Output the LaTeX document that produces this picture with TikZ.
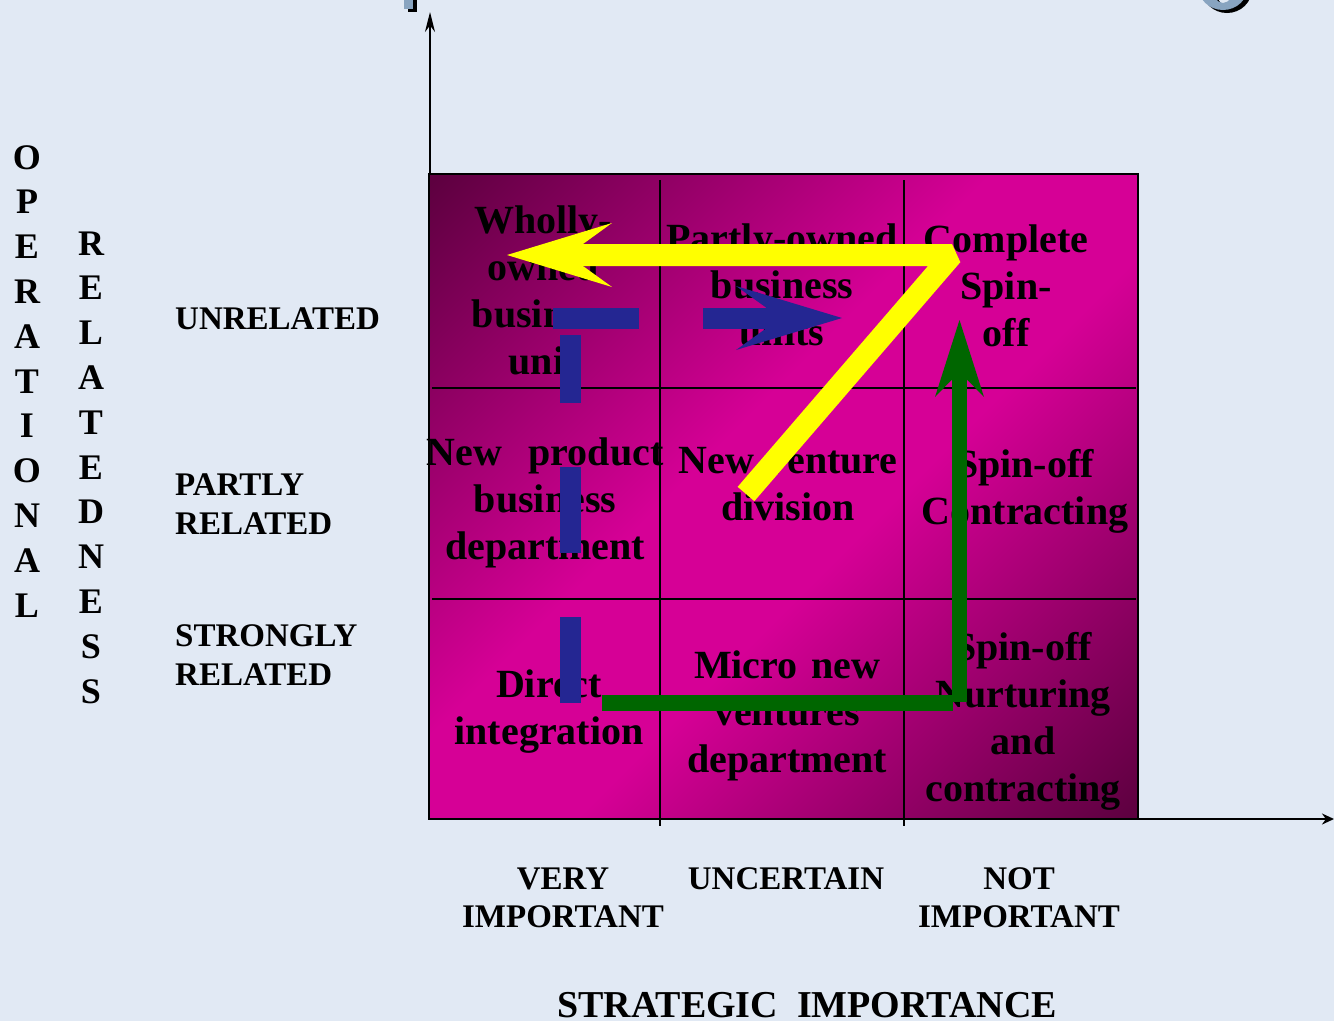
\documentclass[tikz,border=0pt]{standalone}
\usepackage{fontspec}
\setmainfont{Liberation Serif}
\usetikzlibrary{arrows.meta}

\definecolor{bgblue}{RGB}{225,233,244}
\definecolor{headblue}{RGB}{136,164,192}
\definecolor{magdark}{RGB}{94,0,64}
\definecolor{magbright}{RGB}{214,0,150}
\definecolor{arrowblue}{RGB}{36,38,146}
\definecolor{arrowgreen}{RGB}{0,102,0}
\definecolor{arrowyellow}{RGB}{255,255,0}

% diagonal magenta ramp: dark corners, bright across the anti-diagonal
\pgfdeclarehorizontalshading{matrixramp}{100bp}{%
  color(0bp)=(magdark); color(15bp)=(magdark);
  color(44bp)=(magbright); color(56bp)=(magbright);
  color(85bp)=(magdark); color(100bp)=(magdark)}

\tikzset{
  celltext/.style={anchor=base, text width=240pt, align=center, inner sep=0pt,
    font=\fontsize{40}{47}\selectfont\bfseries},
  axislabel/.style={anchor=base west, text width=220pt, align=left, inner sep=0pt,
    font=\fontsize{33}{39}\selectfont\bfseries},
  collabel/.style={anchor=base, text width=240pt, align=center, inner sep=0pt,
    font=\fontsize{33}{38}\selectfont\bfseries},
  vertword/.style={anchor=base, text width=40pt, align=center, inner sep=0pt,
    font=\fontsize{36}{44.8}\selectfont\bfseries},
  gridline/.style={line width=2pt, black},
  axisline/.style={line width=1.8pt, black},
  yellowband/.style={line width=22pt, arrowyellow, line join=bevel},
  blueband/.style={line width=21pt, arrowblue, dash pattern=on 86pt off 64pt},
  greenband/.style={line width=15.5pt, arrowgreen},
}

\begin{document}
\begin{tikzpicture}[x=1pt,y=-1pt]
\useasboundingbox (0,0) rectangle (1334,1021);
\fill[bgblue] (0,0) rectangle (1334,1021);

% lower ends of the shadowed heading letters above the frame
\begin{scope}
\clip (0,0) rectangle (1334,30);
\fill[black] (408,-20) rectangle (417,12);
\fill[headblue] (404,-20) rectangle (413,9);
\fill[black, even odd rule] (1227,-11) ellipse [x radius=25pt, y radius=24pt]
                            (1227,-11) ellipse [x radius=11pt, y radius=17pt];
\fill[headblue, even odd rule] (1223,-14) ellipse [x radius=25pt, y radius=24pt]
                               (1223,-14) ellipse [x radius=11pt, y radius=17pt];
\end{scope}

% matrix frame and grid
\coordinate (tl) at (429,174);
\coordinate (br) at (1138,819);
\shade[shading=matrixramp, shading angle=-45] (tl) rectangle (br);
\draw[line width=2.6pt] (tl) rectangle (br);
\draw[gridline] (660,180) -- (660,826);
\draw[gridline] (904,180) -- (904,826);
\draw[gridline] (432,388) -- (1136,388);
\draw[gridline] (432,599) -- (1136,599);

% axes
\coordinate (ytop) at (430,12);
\coordinate (xend) at (1334,819);
\draw[axisline, -{Stealth[length=20pt,width=10pt]}] (430,174) -- (ytop);
\draw[axisline, -{Stealth[length=12pt,width=11pt]}] (1138,819) -- (xend);

% cell texts
\node[celltext] (c11) at (543,233) {Wholly-\\owned\\business\\unit};
\node[celltext] (c12) at (782,251) {Partly-owned\\business\\units};
\node[celltext] (c13) at (1006,252) {Complete\\Spin-\\off};
\node[celltext] (c21) at (545,465) {New~~product\\business\\department};
\node[celltext] (c22) at (788,473) {New venture\\division};
\node[celltext] (c23) at (1025,477) {Spin-off\\Contracting};
\node[celltext] (c31) at (549,697) {Direct\\integration};
\node[celltext] (c32) at (787,678) {Micro new\\ventures\\department};
\node[celltext] (c33) at (1023,660) {Spin-off\\Nurturing\\and\\contracting};

% row labels
\node[axislabel] (r1) at (175,329) {UNRELATED};
\node[axislabel] (r2) at (175,495) {PARTLY\\RELATED};
\node[axislabel] (r3) at (175,646) {STRONGLY\\RELATED};

% column labels
\node[collabel] (k1) at (563,889) {VERY\\IMPORTANT};
\node[collabel] (k2) at (786,889) {UNCERTAIN};
\node[collabel] (k3) at (1019,889) {NOT\\IMPORTANT};

% axis titles
\node[anchor=base, inner sep=0pt, font=\fontsize{38}{44}\selectfont\bfseries]
  (xtitle) at (807,1017) {STRATEGIC~~IMPORTANCE};
\node[vertword] (op) at (27,169) {O\\P\\E\\R\\A\\T\\I\\O\\N\\A\\L};
\node[vertword] (rel) at (91,255) {R\\E\\L\\A\\T\\E\\D\\N\\E\\S\\S};

% yellow route: centre cell up to the top-right, then back to the top-left
\coordinate (ytail) at (746,494);
\coordinate (ybend) at (952,255);
\coordinate (ytip) at (507,255);
\draw[yellowband] (ytail) -- (ybend) -- (583,255);
\fill[arrowyellow] (ytip) -- (612,223) -- (583,244) -- (583,266) -- (612,287) -- cycle;

% blue dashed route up the first column and across to the middle
\coordinate (bbot) at (570,703);
\coordinate (btop) at (570,335);
\coordinate (bstart) at (553,318);
\coordinate (btip) at (842,318);
\draw[blueband] (bbot) -- (btop);
\draw[blueband] (bstart) -- (766,318);
\fill[arrowblue] (btip) -- (736,286) -- (766,307.5) -- (766,328.5) -- (736,350) -- cycle;

% green route along the bottom row and up the right column
\coordinate (gstart) at (602,703);
\coordinate (gtip) at (959.5,320);
\draw[greenband] (gstart) -- (953,703);
\draw[greenband] (959.5,702) -- (959.5,380);
\fill[arrowgreen] (gtip) -- (935,397) -- (951.5,380) -- (967.5,380) -- (984,397) -- cycle;
\end{tikzpicture}
\end{document}
